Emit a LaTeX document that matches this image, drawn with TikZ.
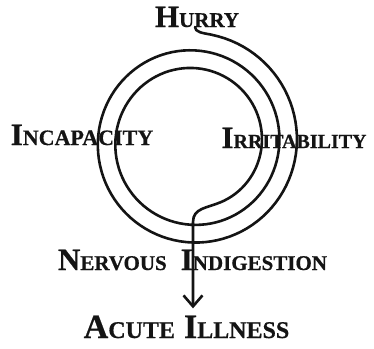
\documentclass[tikz,border=0pt]{standalone}
\usepackage{fontspec}
\setmainfont[BoldFeatures={FakeBold=0.6}]{Liberation Serif}
\definecolor{InkBlack}{RGB}{20,20,20}
\usetikzlibrary{
    arrows.meta,
    calc,
}
\newcommand{\bigsz}{31}
\newcommand{\smsz}{21}
\newcommand{\capword}[2]{{\fontsize{\bigsz}{\bigsz}\selectfont #1}{\fontsize{\smsz}{\smsz}\selectfont #2}}

\begin{document}
\begin{tikzpicture}[
    x=1pt, y=-1pt,
    wire/.style={draw=InkBlack, line width=2.6pt, line cap=round, line join=round},
    word/.style={inner sep=0pt, anchor=base, text=InkBlack, font=\bfseries},
    wordwide/.style={font=\bfseries\def\smsz{22}},
    wordslim/.style={font=\bfseries\def\smsz{20}},
    wordbig/.style={font=\bfseries\def\bigsz{34}\def\smsz{24}}
]
    \useasboundingbox (0,0) rectangle (374,348);
    \node[word] (hurry)   at (197,27)    {\capword{H}{URRY}};
    \node[word, wordwide] (incap) at (82,145)  {\capword{I}{NCAPACITY}};
    \node[word, wordslim] (irrit) at (294,148) {\capword{I}{RRITABILITY}};
    \node[word] (nervous) at (192.5,270) {\capword{N}{ERVOUS}\hspace{14pt}\capword{I}{NDIGESTION}};
    \node[word, wordbig] (illness) at (186.5,338) {\capword{A}{CUTE}\hspace{9pt}\capword{I}{LLNESS}};
    % spiral: hook under Hurry, three turns, then down to the arrow
    \coordinate (hook) at (195,27);
    \coordinate (tail) at (193,222);
    \draw[wire, -{Straight Barb[length=11pt, width=19pt]}, shorten >=7pt]
        (hook) .. controls (195,32) and (202,33) .. (211.7,34.7)
        -- plot[domain=-80:785, samples=240, variable=\t]
            ({193+(103.9-17.5*\t/360)*cos(\t)}, {142+1.01*(103.9-17.5*\t/360)*sin(\t)})
        .. controls (207,208) and (193,208) .. (tail)
        -- (tail |- illness.north);
\end{tikzpicture}
\end{document}
